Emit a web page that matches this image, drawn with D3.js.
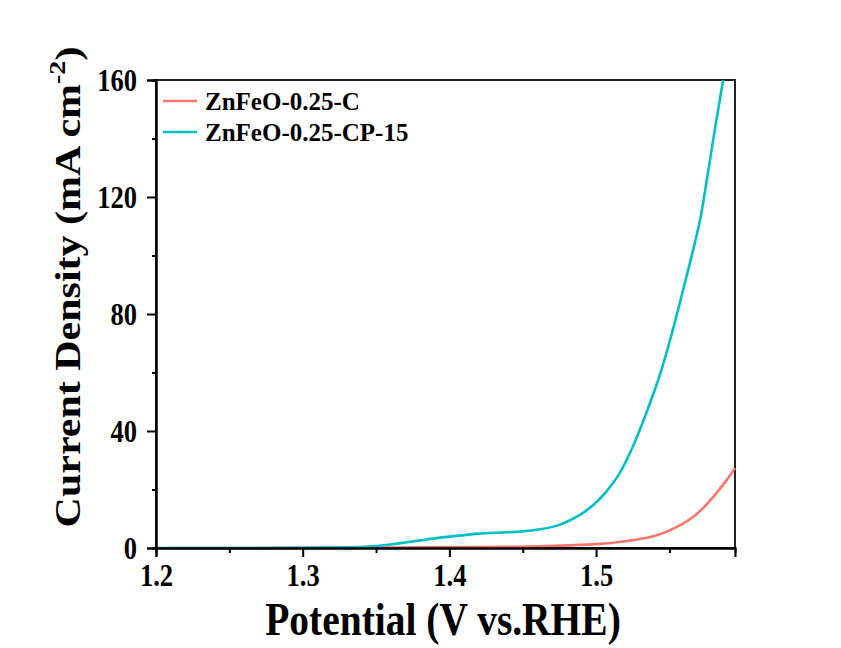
<!DOCTYPE html>
<html>
<head>
<meta charset="utf-8">
<script src="https://cdn.jsdelivr.net/npm/d3@7"></script>
<style>
  html, body { margin: 0; padding: 0; background: #ffffff; }
  svg { display: block; }
  text { font-family: "Liberation Serif", "Times New Roman", serif; font-weight: bold; fill: #000; }
</style>
</head>
<body>
<svg id="chart" width="841" height="648"></svg>
<script>
// LSV polarization curves: potential (V vs. RHE) against current density (mA cm^-2)
const seriesNames = ["ZnFeO-0.25-C", "ZnFeO-0.25-CP-15"];
const seriesColors = ["#F8766D", "#00BFC4"];

const potentialC = [1.208, 1.25, 1.30, 1.35, 1.40, 1.448, 1.482, 1.5027, 1.5163, 1.5254, 1.539, 1.5481, 1.5573, 1.5663, 1.5733, 1.5799, 1.589, 1.5947];
const currentC   = [0.0,   0.0,  0.05, 0.15, 0.3,  0.45,  0.9,   1.4,    2.1,    2.7,    4.0,   5.6,    7.8,    10.7,   13.8,   17.5,   23.2,  27.3];

const potentialCP = [1.20, 1.25, 1.30, 1.33, 1.345, 1.36, 1.37, 1.38, 1.39, 1.40, 1.41, 1.42, 1.43, 1.44, 1.448, 1.462, 1.475, 1.489, 1.498, 1.507, 1.516, 1.525, 1.5345, 1.544, 1.552, 1.5587, 1.5667, 1.5712, 1.5746, 1.5803, 1.5866];
const currentCP   = [0.0,  0.0,  0.1,  0.2,  0.5,   1.2,  1.9,  2.6,  3.3,  3.9,  4.4,  4.9,  5.2,  5.4,  5.6,   6.4,   7.9,   11.3,  14.7,  19.3,  25.5,  34.6,  46.5,   60.0,  74.0,  87.0,   103.0,  113.0,  123.0,  141.0,  160.0];

const xMajorTicks = [1.2, 1.3, 1.4, 1.5];
const xMinorTicks = [1.25, 1.35, 1.45, 1.55];
const yMajorTicks = [0, 40, 80, 120, 160];
const yMinorTicks = [20, 60, 100, 140];

const xDomain = [1.2, 1.5947];
const yDomain = [0, 160];

const margin = { left: 156, right: 106, top: 80, bottom: 100 };
const W = 841, H = 648;
const svg = d3.select("#chart");

const x = d3.scaleLinear().domain(xDomain).range([margin.left, W - margin.right]);
const y = d3.scaleLinear().domain(yDomain).range([H - margin.bottom, margin.top]);

// plot frame (top and right edges)
svg.append("rect")
  .attr("x", x.range()[0]).attr("y", y.range()[1])
  .attr("width", x.range()[1] - x.range()[0])
  .attr("height", y.range()[0] - y.range()[1])
  .attr("fill", "none").attr("stroke", "#222").attr("stroke-width", 2);

// curves
const line = d3.line()
  .x(d => x(d[0]))
  .y(d => y(d[1]))
  .curve(d3.curveCatmullRom.alpha(0.5));

const series = [
  { name: seriesNames[0], color: seriesColors[0], pts: d3.zip(potentialC, currentC) },
  { name: seriesNames[1], color: seriesColors[1], pts: d3.zip(potentialCP, currentCP) }
];

svg.append("g").selectAll("path")
  .data(series)
  .join("path")
  .attr("d", d => line(d.pts))
  .attr("fill", "none")
  .attr("stroke", d => d.color)
  .attr("stroke-width", 2.6)
  .attr("stroke-linejoin", "round");

// bottom axis
const xAxisG = svg.append("g").attr("transform", `translate(0,${y.range()[0]})`);
xAxisG.call(d3.axisBottom(x).tickValues(xMajorTicks).tickSize(9).tickPadding(6).tickFormat(d3.format(".1f")));
xAxisG.append("g").call(d3.axisBottom(x).tickValues(xMinorTicks).tickSize(5).tickFormat(""));
xAxisG.selectAll(".domain").attr("stroke", "#000").attr("stroke-width", 2);
xAxisG.selectAll(".tick line").attr("stroke", "#000").attr("stroke-width", 2);
xAxisG.selectAll(".tick text")
  .attr("font-size", 32)
  .attr("font-family", "Liberation Serif")
  .attr("font-weight", "bold")
  .attr("fill", "#000")
  .attr("dy", "0.71em")
  .attr("x", 0)
  .attr("transform", "scale(0.83,1)");

// left axis
const yAxisG = svg.append("g").attr("transform", `translate(${x.range()[0]},0)`);
yAxisG.call(d3.axisLeft(y).tickValues(yMajorTicks).tickSize(9).tickPadding(10));
yAxisG.append("g").call(d3.axisLeft(y).tickValues(yMinorTicks).tickSize(4).tickFormat(""));
yAxisG.selectAll(".domain").attr("stroke", "#000").attr("stroke-width", 2);
yAxisG.selectAll(".tick line").attr("stroke", "#000").attr("stroke-width", 2);
yAxisG.selectAll(".tick text")
  .attr("font-size", 32)
  .attr("font-family", "Liberation Serif")
  .attr("font-weight", "bold")
  .attr("fill", "#000")
  .attr("x", -19 / 0.83)
  .attr("transform", "scale(0.83,1)");

// axis titles
svg.append("text")
  .attr("transform", "translate(443,635) scale(0.84,1)")
  .attr("text-anchor", "middle")
  .attr("font-size", 47)
  .text("Potential (V vs.RHE)");

const yTitle = svg.append("text")
  .attr("transform", "translate(80,287) rotate(-90) scale(1,0.83)")
  .attr("text-anchor", "middle")
  .attr("font-size", 42);
yTitle.append("tspan").text("Current Density (mA cm");
yTitle.append("tspan").attr("font-size", 28).attr("dy", -18).text("-2");
yTitle.append("tspan").attr("dy", 18).text(")");

// legend
const legend = svg.append("g");
const legRows = legend.selectAll("g")
  .data(series)
  .join("g")
  .attr("transform", (d, i) => `translate(163,${101 + i * 31})`);
legRows.append("line")
  .attr("x1", 0).attr("x2", 34)
  .attr("stroke", d => d.color).attr("stroke-width", 2.6);
legRows.append("text")
  .attr("x", 42).attr("dy", "0.35em")
  .attr("font-size", 25)
  .text(d => d.name);
</script>
</body>
</html>
